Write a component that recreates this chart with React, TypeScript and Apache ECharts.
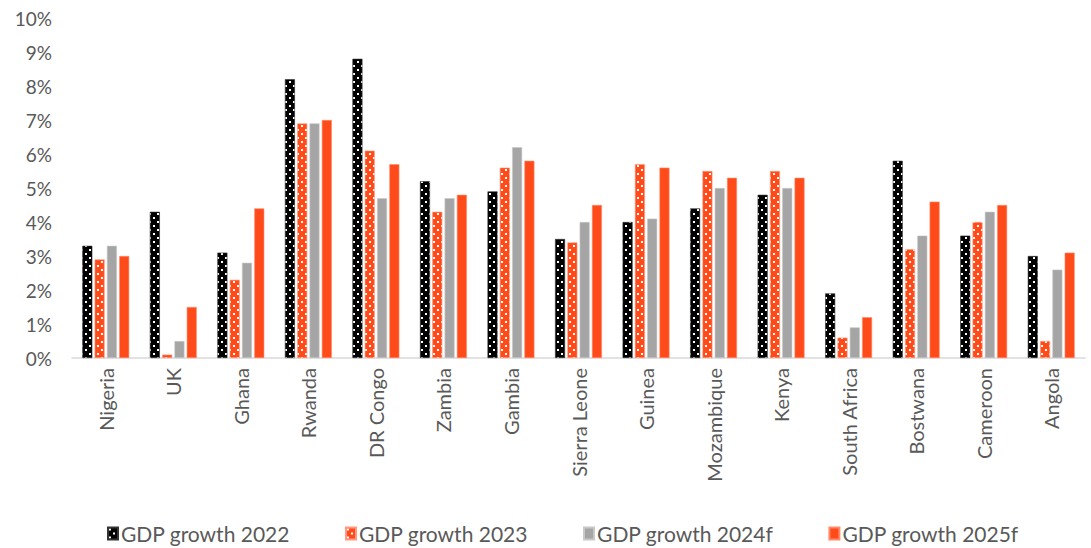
import React, { useEffect, useRef } from "react";
import * as echarts from "echarts";

const categories = ["Nigeria", "UK", "Ghana", "Rwanda", "DR Congo", "Zambia", "Gambia", "Sierra Leone", "Guinea", "Mozambique", "Kenya", "South Africa", "Bostwana", "Cameroon", "Angola"];
const gdp2022 = [3.3, 4.3, 3.1, 8.2, 8.8, 5.2, 4.9, 3.5, 4.0, 4.4, 4.8, 1.9, 5.8, 3.6, 3.0];
const gdp2023 = [2.9, 0.1, 2.3, 6.9, 6.1, 4.3, 5.6, 3.4, 5.7, 5.5, 5.5, 0.6, 3.2, 4.0, 0.5];
const gdp2024f = [3.3, 0.5, 2.8, 6.9, 4.7, 4.7, 6.2, 4.0, 4.1, 5.0, 5.0, 0.9, 3.6, 4.3, 2.6];
const gdp2025f = [3.0, 1.5, 4.4, 7.0, 5.7, 4.8, 5.8, 4.5, 5.6, 5.3, 5.3, 1.2, 4.6, 4.5, 3.1];
const seriesNames = ["GDP growth 2022", "GDP growth 2023", "GDP growth 2024f", "GDP growth 2025f"];

function dotPattern(bg: string): string {
  const c = document.createElement("canvas");
  c.width = 8;
  c.height = 8;
  const ctx = c.getContext("2d")!;
  ctx.fillStyle = bg;
  ctx.fillRect(0, 0, 8, 8);
  ctx.fillStyle = "#ffffff";
  ctx.fillRect(1, 1, 2, 2);
  ctx.fillRect(5, 5, 2, 2);
  return c.toDataURL();
}

export default function App() {
  const ref = useRef<HTMLDivElement>(null);
  useEffect(() => {
    document.body.style.margin = "0";
    const chart = echarts.init(ref.current!, undefined, { renderer: "svg" });
    const black = { image: dotPattern("#000000"), repeat: "repeat" };
    const orangeDots = { image: dotPattern("#ff4b1a"), repeat: "repeat" };
    const font = "Lato";
    const mk = (name: string, data: number[], color: any, border: string) => ({
      name,
      type: "bar",
      data,
      barWidth: 10,
      barGap: "23%",
      itemStyle: { color, borderColor: border, borderWidth: 0.6 },
    });
    chart.setOption({
      animation: false,
      grid: { left: 72, right: 6, top: 18, bottom: 190, containLabel: false },
      legend: {
        bottom: -1,
        left: 102,
        itemWidth: 10,
        itemHeight: 12,
        itemGap: 55,
        icon: "rect",
        textStyle: { fontFamily: font, fontSize: 21, color: "#595959", padding: [0, 0, 0, -2] },
        data: seriesNames,
      },
      xAxis: {
        type: "category",
        data: categories,
        axisLine: { lineStyle: { color: "#d9d9d9", width: 1.5 } },
        axisTick: { show: false },
        axisLabel: { rotate: 90, interval: 0, margin: 10, fontFamily: font, fontSize: 20, color: "#595959" },
      },
      yAxis: {
        type: "value",
        min: 0,
        max: 10,
        interval: 1,
        splitLine: { show: false },
        axisLine: { show: false },
        axisLabel: { formatter: "{value}%", margin: 20, fontFamily: font, fontSize: 19, color: "#595959" },
      },
      series: [
        mk(seriesNames[0], gdp2022, black, "#333333"),
        mk(seriesNames[1], gdp2023, orangeDots, "#ff9a80"),
        mk(seriesNames[2], gdp2024f, "#a5a5a5", "#c8c8c8"),
        mk(seriesNames[3], gdp2025f, "#ff4b1a", "#ff8a6a"),
      ],
    });
    return () => chart.dispose();
  }, []);
  return <div ref={ref} style={{ width: 1091, height: 548 }} />;
}
